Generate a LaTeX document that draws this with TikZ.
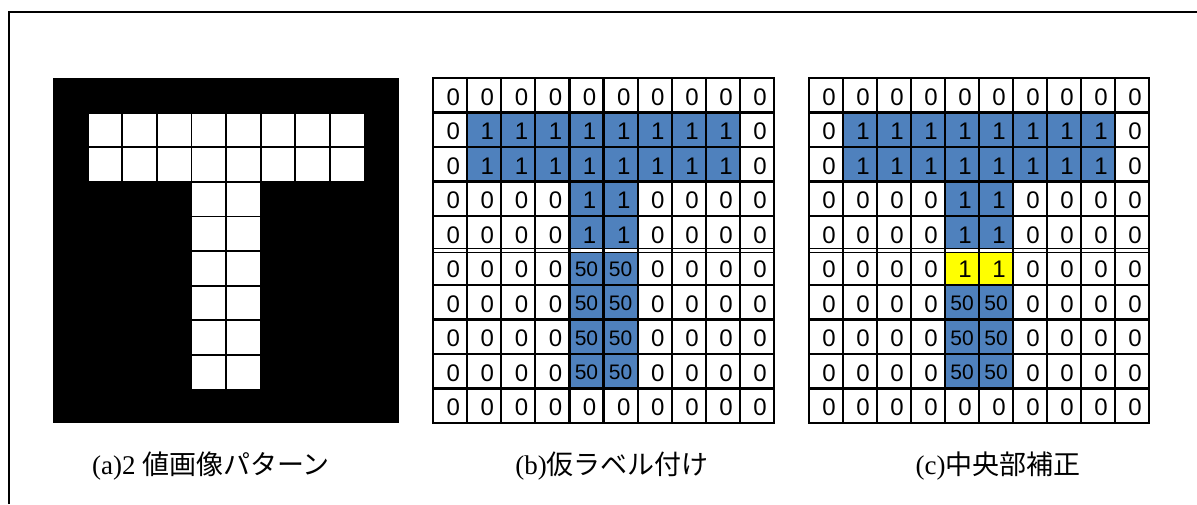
\documentclass[tikz,border=0pt]{standalone}
\usepackage{fontspec}
\setmainfont{Liberation Serif}
\newfontfamily\numfont{Liberation Sans}
\newfontfamily\jpfont{Noto Sans CJK JP}
\definecolor{cellblue}{HTML}{4F81BD}
\definecolor{cellyellow}{HTML}{FFFF00}
\tikzset{
  frameline/.style={line width=1.6pt, black},
  gridline/.style={line width=2.2pt, black},
  gridouter/.style={line width=2.8pt, black},
  dblline/.style={line width=1.0pt, black},
  digit/.style={inner sep=0pt, anchor=base east, font=\numfont\fontsize{24}{24}\selectfont},
  fifty/.style={inner sep=0pt, anchor=base, font=\numfont\fontsize{21}{21}\selectfont},
  caption/.style={inner sep=0pt, font=\fontsize{27}{27}\selectfont},
}
\newcommand{\cellgrid}[4]{% #1 name, #2 x0, #3 y0, #4 cell width
  \def\gx{#2}\def\gy{#3}\def\gw{#4}\def\gh{34.5}
  \foreach \r in {1,...,9}{
    \ifnum\r=5
      \draw[white, line width=2.2pt] (\gx,{\gy+5*\gh}) -- ({\gx+10*\gw},{\gy+5*\gh});
      \draw[dblline] (\gx,{\gy+5*\gh-1.7}) -- ({\gx+10*\gw},{\gy+5*\gh-1.7});
      \draw[dblline] (\gx,{\gy+5*\gh+1.7}) -- ({\gx+10*\gw},{\gy+5*\gh+1.7});
    \else
      \draw[gridline] (\gx,{\gy+\r*\gh}) -- ({\gx+10*\gw},{\gy+\r*\gh});
    \fi
  }
  \foreach \c in {1,...,9}{
    \draw[gridline] ({\gx+\c*\gw},\gy) -- ({\gx+\c*\gw},{\gy+10*\gh});
  }
  \draw[gridouter] (\gx,\gy) rectangle ({\gx+10*\gw},{\gy+10*\gh});
}
\newcommand{\cellnums}[5]{% #1 name, #2 x0, #3 y0, #4 width, #5 row list
  \foreach \row [count=\r from 0] in {#5}{
    \foreach \v [count=\c from 0] in \row{
      \ifnum\v=50
        \node[fifty] (#1-\r-\c) at ({#2+(\c+0.5)*#4},{#3+\r*34.5+25.5}) {50};
      \else
        \node[digit] (#1-\r-\c) at ({#2+(\c+1)*#4-7},{#3+\r*34.5+27}) {\v};
      \fi
    }
  }
}
\begin{document}
\begin{tikzpicture}[x=1pt,y=-1pt]
\useasboundingbox (0,0) rectangle (1197,504);
% outer frame (top and left visible)
\draw[frameline] (9,504) -- (9,12) -- (1197,12);

% ---------- panel (a) ----------
\def\pa{34.6}
\fill[black] (53,78) rectangle (399,423);
\foreach \r in {1,2}{\foreach \c in {1,...,8}{
  \fill[white] ({53+\c*\pa+0.9},{78+\r*\pa+0.9}) rectangle ({53+(\c+1)*\pa-0.9},{78+(\r+1)*\pa-0.9});
}}
\foreach \r in {3,...,8}{\foreach \c in {4,5}{
  \fill[white] ({53+\c*\pa+0.9},{78+\r*\pa+0.9}) rectangle ({53+(\c+1)*\pa-0.9},{78+(\r+1)*\pa-0.9});
}}

% ---------- panel (b) ----------
\def\bx{433}\def\bw{34.1}
\fill[cellblue] ({\bx+1*\bw},{78+1*34.5}) rectangle ({\bx+9*\bw},{78+3*34.5});
\fill[cellblue] ({\bx+4*\bw},{78+3*34.5}) rectangle ({\bx+6*\bw},{78+9*34.5});
\cellgrid{b}{433}{78}{34.1}
\cellnums{b}{433}{78}{34.1}{
 {0,0,0,0,0,0,0,0,0,0},
 {0,1,1,1,1,1,1,1,1,0},
 {0,1,1,1,1,1,1,1,1,0},
 {0,0,0,0,1,1,0,0,0,0},
 {0,0,0,0,1,1,0,0,0,0},
 {0,0,0,0,50,50,0,0,0,0},
 {0,0,0,0,50,50,0,0,0,0},
 {0,0,0,0,50,50,0,0,0,0},
 {0,0,0,0,50,50,0,0,0,0},
 {0,0,0,0,0,0,0,0,0,0}}

% ---------- panel (c) ----------
\def\cx{809}\def\cw{34.0}
\fill[cellblue] ({\cx+1*\cw},{78+1*34.5}) rectangle ({\cx+9*\cw},{78+3*34.5});
\fill[cellblue] ({\cx+4*\cw},{78+3*34.5}) rectangle ({\cx+6*\cw},{78+9*34.5});
\fill[cellyellow] ({\cx+4*\cw},{78+5*34.5}) rectangle ({\cx+6*\cw},{78+6*34.5});
\cellgrid{c}{809}{78}{34.0}
\cellnums{c}{809}{78}{34.0}{
 {0,0,0,0,0,0,0,0,0,0},
 {0,1,1,1,1,1,1,1,1,0},
 {0,1,1,1,1,1,1,1,1,0},
 {0,0,0,0,1,1,0,0,0,0},
 {0,0,0,0,1,1,0,0,0,0},
 {0,0,0,0,1,1,0,0,0,0},
 {0,0,0,0,50,50,0,0,0,0},
 {0,0,0,0,50,50,0,0,0,0},
 {0,0,0,0,50,50,0,0,0,0},
 {0,0,0,0,0,0,0,0,0,0}}

% ---------- captions ----------
\node[caption] (capa) at (211,466) {(a)2 {\jpfont 値画像パターン}};
\node[caption] (capb) at (612,466) {(b){\jpfont 仮ラベル付け}};
\node[caption] (capc) at (998,466) {(c){\jpfont 中央部補正}};
\end{tikzpicture}
\end{document}
